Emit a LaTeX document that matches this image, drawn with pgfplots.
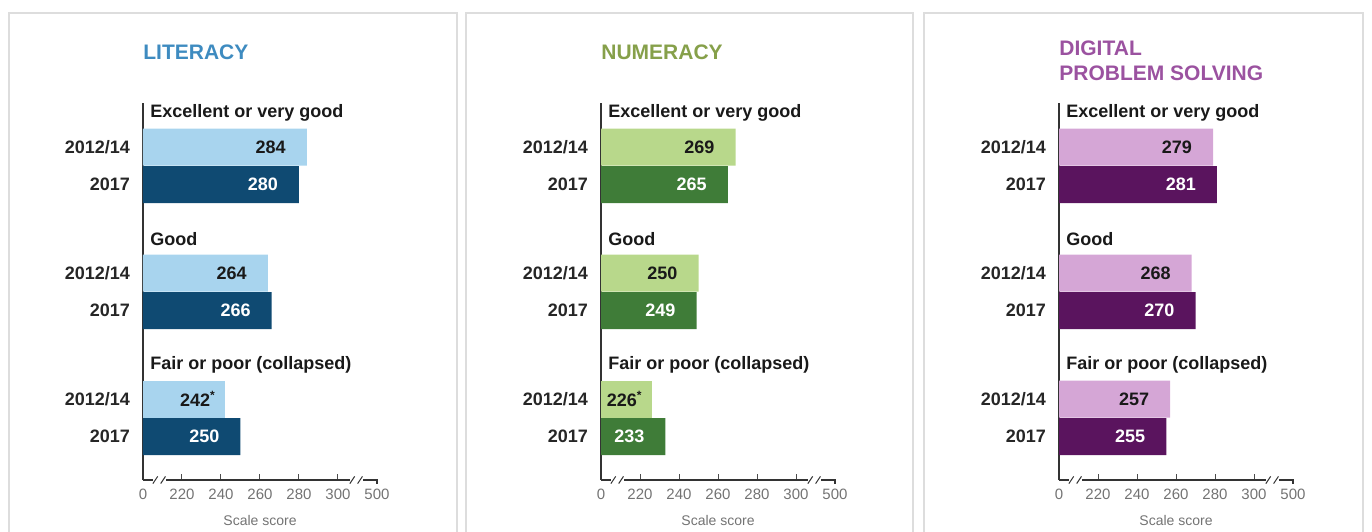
\documentclass[border=0pt]{standalone}
\usepackage{fontspec}
\setmainfont{Liberation Sans}
\usepackage{pgfplots}
\pgfplotsset{compat=1.18}
\definecolor{litL}{HTML}{A8D4EE}
\definecolor{litD}{HTML}{0F4A72}
\definecolor{litT}{HTML}{3E8BC0}
\definecolor{numL}{HTML}{B8D88B}
\definecolor{numD}{HTML}{3F7C38}
\definecolor{numT}{HTML}{86A04A}
\definecolor{digL}{HTML}{D5A6D6}
\definecolor{digD}{HTML}{5A145E}
\definecolor{digT}{HTML}{9B52A0}
\definecolor{frame}{HTML}{DDDDDD}
\newcommand{\lblfont}{\bfseries\fontsize{9}{10}\selectfont}
\pgfplotsset{
  panel/.style={
    scale only axis, width=117pt, height=188.5pt, anchor=north west,
    xmin=200, xmax=320, ymin=-480, ymax=-103,
    axis x line*=bottom, axis y line*=left,
    x axis line style={draw=none},
    y axis line style={line width=0.75pt, draw=black!80},
    xtick={220,240,260,280,300},
    extra x ticks={200,320}, extra x tick labels={0,500},
    extra x tick style={major tick length=0pt},
    tick align=inside, major tick length=3pt,
    /pgf/number format/assume math mode=true,
    xtick style={draw=black!70, line width=0.5pt},
    xticklabel style={font=\fontsize{7.5}{8}\selectfont, text=black!55, yshift=-1pt},
    ytick={-147,-184.5,-273,-310.5,-399,-436.5},
    yticklabels={2012/14,2017,2012/14,2017,2012/14,2017},
    yticklabel style={font=\lblfont, text=black!85},
    ytick style={draw=none},
    xlabel={Scale score},
    xlabel style={font=\fontsize{7}{8}\selectfont, text=black!55, yshift=-1pt},
    xbar, bar width=18.5pt, bar shift=0pt,
    point meta=explicit symbolic,
    nodes near coords,
    every node near coord/.append style={anchor=east, xshift=-7pt, font=\lblfont},
    clip=true,
    after end axis/.code={
      \draw[black!80, line width=0.6pt] (axis cs:200,-480) -- (axis cs:205,-480);
      \draw[black!80, line width=0.6pt] (axis cs:212,-480) -- (axis cs:306,-480);
      \draw[black!80, line width=0.6pt] (axis cs:313,-480) -- (axis cs:320,-480) -- ++(0,-2pt);
      \foreach \bx in {206.3,210.3,307.3,311.3}{
        \draw[black!80, line width=0.5pt] ([xshift=-1.2pt,yshift=-1.8pt]axis cs:\bx,-480) -- ++(2.4pt,3.6pt);
      }
      \node[anchor=west, font=\lblfont, text=black!90, inner sep=0pt] at ([xshift=3.5pt]axis cs:200,-113) {Excellent or very good};
      \node[anchor=west, font=\lblfont, text=black!90, inner sep=0pt] at ([xshift=3.5pt]axis cs:200,-239) {Good};
      \node[anchor=west, font=\lblfont, text=black!90, inner sep=0pt] at ([xshift=3.5pt]axis cs:200,-365) {Fair or poor (collapsed)};
    },
  },
  lightbar/.style={draw=none, fill=#1, every node near coord/.append style={text=black!90}},
  darkbar/.style={draw=none, fill=#1, every node near coord/.append style={text=white}},
}
\begin{document}
\begin{tikzpicture}
\path[use as bounding box] (0,0) rectangle (686pt,-265.5pt);
% panel frames
\draw[frame, line width=1pt] (4.5pt,-280pt) -- (4.5pt,-6.5pt) -- (228.5pt,-6.5pt) -- (228.5pt,-280pt);
\draw[frame, line width=1pt] (233pt,-280pt) -- (233pt,-6.5pt) -- (456.5pt,-6.5pt) -- (456.5pt,-280pt);
\draw[frame, line width=1pt] (462pt,-280pt) -- (462pt,-6.5pt) -- (681.5pt,-6.5pt) -- (681.5pt,-280pt);
% titles
\node[anchor=west, inner sep=0pt, font=\bfseries\fontsize{10.5}{12}\selectfont, text=litT] at (71.5pt,-26pt) {LITERACY};
\node[anchor=west, inner sep=0pt, font=\bfseries\fontsize{10.5}{12}\selectfont, text=numT] at (300.5pt,-26pt) {NUMERACY};
\node[anchor=north west, inner sep=0pt, align=left, font=\bfseries\fontsize{10.5}{12.5}\selectfont, text=digT] at (529.5pt,-20pt) {DIGITAL\\PROBLEM SOLVING};

% LITERACY
\begin{axis}[panel, at={(71.5pt,-51.5pt)}]
\addplot[lightbar=litL] table[meta=label] {
x y label
284 -147 284
264 -273 264
};
\addplot[lightbar=litL, every node near coord/.append style={xshift=6pt}] table[meta=label] {
x y label
242 -399 242\textsuperscript{*}
};
\addplot[darkbar=litD] table[meta=label] {
x y label
280 -184.5 280
266 -310.5 266
250 -436.5 250
};
\end{axis}

% NUMERACY
\begin{axis}[panel, at={(300.5pt,-51.5pt)}]
\addplot[lightbar=numL] table[meta=label] {
x y label
269 -147 269
250 -273 250
};
\addplot[lightbar=numL, every node near coord/.append style={xshift=6pt}] table[meta=label] {
x y label
226 -399 226\textsuperscript{*}
};
\addplot[darkbar=numD] table[meta=label] {
x y label
265 -184.5 265
249 -310.5 249
233 -436.5 233
};
\end{axis}

% DIGITAL PROBLEM SOLVING
\begin{axis}[panel, at={(529.5pt,-51.5pt)}]
\addplot[lightbar=digL] table[meta=label] {
x y label
279 -147 279
268 -273 268
257 -399 257
};
\addplot[darkbar=digD] table[meta=label] {
x y label
281 -184.5 281
270 -310.5 270
255 -436.5 255
};
\end{axis}
\end{tikzpicture}
\end{document}
